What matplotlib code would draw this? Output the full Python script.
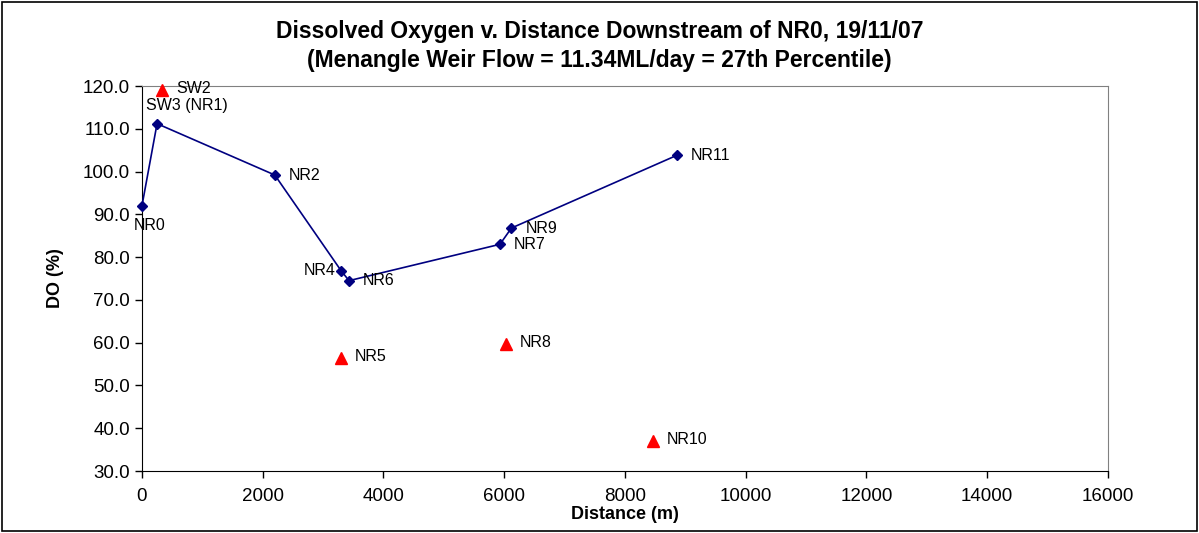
import numpy as np
import matplotlib
matplotlib.use('Agg')
import matplotlib.pyplot as plt
from matplotlib.patches import Rectangle

plt.rcParams['font.family'] = ['Liberation Sans', 'DejaVu Sans']

# main river sites (joined by a line)
river_names = ['NR0', 'SW3 (NR1)', 'NR2', 'NR4', 'NR6', 'NR7', 'NR9', 'NR11']
river_dist = [0, 250, 2200, 3300, 3430, 5930, 6120, 8860]
river_do = [92.0, 111.2, 99.2, 76.8, 74.5, 83.0, 86.8, 103.8]

# tributary / side sites (unjoined)
side_names = ['SW2', 'NR5', 'NR8', 'NR10']
side_dist = [330, 3300, 6030, 8460]
side_do = [119.0, 56.4, 59.7, 37.0]

fig = plt.figure(figsize=(11.99, 5.33), dpi=100)
ax = fig.add_axes([0.1184, 0.1163, 0.924 - 0.1184, 0.8386 - 0.1163])

ax.plot(river_dist, river_do, color='#000080', lw=1.2, marker='D', ms=5.5,
        markerfacecolor='#000080', markeredgecolor='#000080', zorder=3, clip_on=False)
ax.plot(side_dist, side_do, ls='none', marker='^', ms=8, color='#FF0000', zorder=3, clip_on=False)

# label offsets in points
offs = {'NR0': (-6, -14, 'left'), 'SW3 (NR1)': (-8, 13, 'left'), 'NR4': (-27, 0, 'left')}
for n, x, y in zip(river_names, river_dist, river_do):
    dx, dy, ha = offs.get(n, (10, 0, 'left'))
    ax.annotate(n, (x, y), xytext=(dx, dy), textcoords='offset points',
                ha=ha, va='center', fontsize=11.5, color='black')
for n, x, y in zip(side_names, side_dist, side_do):
    ax.annotate(n, (x, y), xytext=(10, 1), textcoords='offset points',
                ha='left', va='center', fontsize=11.5, color='black')

ax.set_xlim(0, 16000)
ax.set_ylim(30, 120)
ax.set_xticks(np.arange(0, 16001, 2000))
ax.set_yticks(np.arange(30, 121, 10))
ax.set_yticklabels(['%.1f' % v for v in np.arange(30, 121, 10)])
ax.tick_params(labelsize=13.5, direction='out', length=5, width=1, colors='black')
ax.tick_params(axis='x', pad=7)

for s in ['top', 'right']:
    ax.spines[s].set_color('#808080')
for s in ['left', 'bottom']:
    ax.spines[s].set_color('black')

ax.set_xlabel('Distance (m)', fontsize=13, fontweight='bold', labelpad=1)
ax.set_ylabel('DO (%)', fontsize=13, fontweight='bold', labelpad=14)

fig.text(0.5, 0.94, 'Dissolved Oxygen v. Distance Downstream of NR0, 19/11/07',
         ha='center', va='center', fontsize=16.5, fontweight='bold')
fig.text(0.5, 0.887, '(Menangle Weir Flow = 11.34ML/day = 27th Percentile)',
         ha='center', va='center', fontsize=16.5, fontweight='bold')

fig.patches.append(Rectangle((0.002, 0.003), 0.996, 0.994, transform=fig.transFigure,
                             fill=False, edgecolor='black', lw=1.2))

fig.savefig('out.png', dpi=100)
